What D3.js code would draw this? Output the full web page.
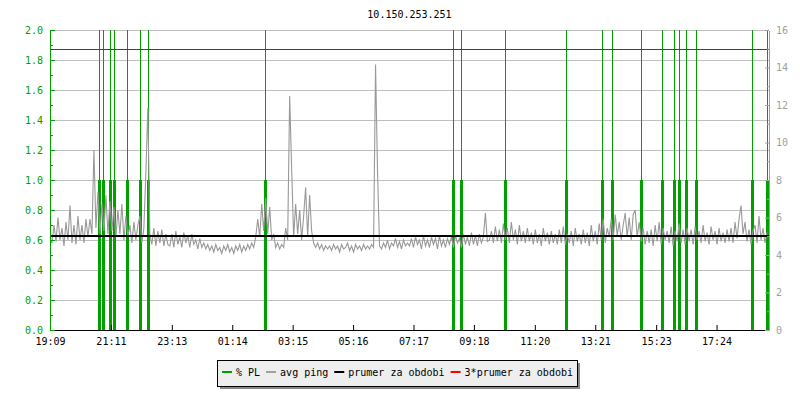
<!DOCTYPE html>
<html>
<head>
<meta charset="utf-8">
<script src="https://cdn.jsdelivr.net/npm/d3@7"></script>
<style>
  html, body { margin: 0; padding: 0; background: #fff; }
  text { font-family: "DejaVu Sans Mono", monospace; font-size: 10px; }
</style>
</head>
<body>
<script>
// ---------------- DATA ----------------
const title = "10.150.253.251";
const startTime = "19:09";          // start of the 24 h window
const windowMinutes = 1440;
const pingStepMinutes = 4;

// avg ping (left axis), one value every 4 minutes from 19:09
const avgPing = [
  0.62,0.58,0.70,0.59,0.75,0.60,0.68,0.56,0.72,0.60,0.83,0.58,0.70,0.57,0.76,0.60,0.70,0.58,0.74,0.62,
  0.74,0.64,1.20,0.68,0.92,0.64,0.84,0.66,0.90,0.64,0.86,0.66,0.82,0.62,0.80,0.64,0.84,0.60,0.76,0.62,
  0.70,0.58,0.72,0.60,0.70,0.76,0.58,0.68,1.05,1.48,0.64,0.57,0.68,0.56,0.66,0.58,0.67,0.56,0.64,0.57,
  0.56,0.64,0.55,0.66,0.57,0.62,0.55,0.65,0.58,0.63,0.55,0.64,0.57,0.60,0.54,0.61,0.55,0.58,0.54,0.57,
  0.53,0.56,0.52,0.57,0.53,0.55,0.51,0.56,0.53,0.57,0.52,0.55,0.51,0.56,0.53,0.57,0.52,0.56,0.53,0.57,
  0.54,0.58,0.55,0.62,0.74,0.62,0.84,0.66,0.88,0.64,0.82,0.60,0.64,0.55,0.58,0.54,0.57,0.55,0.68,0.60,
  1.56,1.07,0.62,0.84,0.64,0.80,0.60,0.76,0.95,0.62,0.90,0.66,0.58,0.55,0.58,0.54,0.57,0.53,0.56,0.54,
  0.56,0.53,0.57,0.54,0.56,0.52,0.57,0.54,0.55,0.58,0.53,0.56,0.52,0.57,0.54,0.56,0.53,0.57,0.54,0.56,
  0.54,0.57,0.55,1.77,1.05,0.56,0.54,0.58,0.55,0.60,0.54,0.58,0.56,0.61,0.55,0.59,0.54,0.60,0.56,0.58,
  0.56,0.61,0.55,0.62,0.57,0.60,0.54,0.63,0.56,0.60,0.55,0.62,0.57,0.61,0.54,0.63,0.56,0.60,0.55,0.61,
  0.57,0.62,0.55,0.63,0.58,0.61,0.55,0.64,0.57,0.62,0.56,0.65,0.57,0.63,0.56,0.64,0.58,0.62,0.78,0.59,
  0.60,0.66,0.58,0.69,0.59,0.67,0.58,0.71,0.60,0.68,0.58,0.72,0.60,0.67,0.57,0.70,0.59,0.66,0.58,0.68,
  0.59,0.65,0.57,0.67,0.58,0.64,0.56,0.68,0.59,0.65,0.57,0.66,0.58,0.64,0.57,0.67,0.58,0.69,0.57,0.64,
  0.58,0.66,0.56,0.68,0.59,0.64,0.57,0.67,0.58,0.65,0.56,0.70,0.59,0.66,0.57,0.71,0.60,0.74,0.58,0.68,
  0.62,0.74,0.60,0.77,0.63,0.72,0.60,0.70,0.78,0.62,0.75,0.60,0.77,0.80,0.62,0.72,0.59,0.68,0.57,0.66,
  0.58,0.67,0.56,0.70,0.59,0.72,0.57,0.68,0.60,0.66,0.58,0.69,0.56,0.66,0.59,0.71,0.58,0.67,0.57,0.68,
  0.59,0.67,0.57,0.69,0.60,0.66,0.58,0.70,0.59,0.65,0.57,0.69,0.60,0.66,0.57,0.68,0.59,0.65,0.58,0.67,
  0.59,0.68,0.58,0.72,0.61,0.74,0.83,0.64,0.72,0.59,0.67,0.57,0.66,0.70,0.58,0.76,0.60,0.68,0.58,0.65
];

// packet-loss events (right axis, %)
const plTimes = ["20:47","20:55","21:09","21:17","21:43","22:09","22:25","02:20","08:36","08:52","10:20",
                 "12:22","13:35","13:55","14:53","15:35","15:59","16:09","16:23","16:43","18:35","19:05"];
const plPct   = [8,8,8,8,8,8,8,8,8,8,8,8,8,8,8,8,8,8,8,8,8,8];

const periodMean = 0.625;           // prumer za obdobi
const meanFactor = 3;               // 3*prumer za obdobi

const xTickLabels = ["19:09","21:11","23:13","01:14","03:15","05:16","07:17","09:18","11:20","13:21","15:23","17:24"];
const leftTicks  = [0,0.2,0.4,0.6,0.8,1.0,1.2,1.4,1.6,1.8,2.0];
const leftMinor  = [0.1,0.3,0.5,0.7,0.9,1.1,1.3,1.5,1.7,1.9];
const rightTicks = [0,2,4,6,8,10,12,14,16];
const rightMinor = [1,3,5,7,9,11,13,15];

const legendItems = [
  {label: "% PL", color: "#00a000"},
  {label: "avg ping", color: "#a0a0a0"},
  {label: "prumer za obdobi", color: "#000000"},
  {label: "3*prumer za obdobi", color: "#ff0000"}
];

// ---------------- HELPERS ----------------
const GREEN = "#00a000", GRAY = "#999999", AXISGRAY = "#a0a0a0", GRID = "#c0c0c0";
const [sh, sm] = startTime.split(":").map(Number);
const t0 = Date.UTC(2020, 0, 1, sh, sm);
function clockToDate(s) {
  const [h, m] = s.split(":").map(Number);
  let min = h * 60 + m - (sh * 60 + sm);
  if (min < 0) min += 1440;
  return new Date(t0 + min * 60000);
}

// ---------------- LAYOUT ----------------
const W = 800, H = 400;
const plot = {left: 50, right: 769, top: 30, bottom: 330};

const svg = d3.select("body").append("svg").attr("width", W).attr("height", H);

const x = d3.scaleUtc().domain([new Date(t0), new Date(t0 + windowMinutes * 60000)]).range([plot.left, plot.right]);
const yL = d3.scaleLinear().domain([0, 2]).range([plot.bottom, plot.top]);
const yR = d3.scaleLinear().domain([0, 16]).range([plot.bottom, plot.top]);

// title
svg.append("text").attr("x", (plot.left + plot.right) / 2).attr("y", 18)
  .attr("text-anchor", "middle").attr("fill", "#000").text(title);

// grid lines
const grid = svg.append("g").attr("transform", `translate(${plot.left},0)`)
  .call(d3.axisLeft(yL).tickValues(leftTicks.filter(v => v > 0)).tickSize(-(plot.right - plot.left)).tickFormat(""));
grid.select(".domain").remove();
grid.selectAll("line").attr("stroke", GRID).attr("shape-rendering", "crispEdges");

// packet loss
const plG = svg.append("g");
plTimes.forEach((t, i) => {
  const px = Math.round(x(clockToDate(t)));
  plG.append("line").attr("x1", px + 0.5).attr("x2", px + 0.5)
    .attr("y1", yR(16)).attr("y2", yR(0)).attr("stroke", GREEN).attr("stroke-width", 1);
  plG.append("rect").attr("x", px - 1).attr("width", 3)
    .attr("y", yR(plPct[i])).attr("height", yR(0) - yR(plPct[i])).attr("fill", GREEN);
});

// ping line
const pingData = avgPing.map((v, i) => ({t: new Date(t0 + i * pingStepMinutes * 60000), v}));
svg.append("path").datum(pingData)
  .attr("fill", "none").attr("stroke", GRAY).attr("stroke-width", 1.1)
  .attr("d", d3.line().x(d => x(d.t)).y(d => yL(d.v)));

// mean lines
svg.append("line").attr("x1", plot.left).attr("x2", plot.right)
  .attr("y1", Math.round(yL(periodMean))).attr("y2", Math.round(yL(periodMean)))
  .attr("stroke", "#000").attr("stroke-width", 2);
svg.append("line").attr("x1", plot.left).attr("x2", plot.right)
  .attr("y1", Math.round(yL(periodMean * meanFactor)) + 0.5).attr("y2", Math.round(yL(periodMean * meanFactor)) + 0.5)
  .attr("stroke", "#e00000").attr("stroke-width", 1);

// bottom axis
const xAxis = svg.append("g").attr("transform", `translate(0,${plot.bottom})`)
  .call(d3.axisBottom(x).tickValues(xTickLabels.map(clockToDate)).tickFormat(d3.utcFormat("%H:%M"))
    .tickSize(-5).tickSizeOuter(0).tickPadding(8));
xAxis.select(".domain").attr("stroke", "#000").attr("shape-rendering", "crispEdges");
xAxis.selectAll("line").attr("stroke", "#000");
xAxis.selectAll("text").attr("fill", "#000").style("font-size", "10px").style("font-family", "DejaVu Sans Mono");

// left axis
const yAxisL = svg.append("g").attr("transform", `translate(${plot.left},0)`)
  .call(d3.axisLeft(yL).tickValues(leftTicks).tickFormat(d3.format(".1f")).tickSize(-5).tickSizeOuter(0).tickPadding(7));
yAxisL.select(".domain").attr("stroke", GREEN).attr("shape-rendering", "crispEdges");
yAxisL.selectAll("line").attr("stroke", GREEN);
yAxisL.selectAll("text").attr("fill", GREEN).style("font-size", "10px").style("font-family", "DejaVu Sans Mono");
const yAxisLm = svg.append("g").attr("transform", `translate(${plot.left},0)`)
  .call(d3.axisLeft(yL).tickValues(leftMinor).tickFormat("").tickSize(-3).tickSizeOuter(0));
yAxisLm.select(".domain").remove();
yAxisLm.selectAll("line").attr("stroke", GREEN);

// right axis
const yAxisR = svg.append("g").attr("transform", `translate(${plot.right},0)`)
  .call(d3.axisRight(yR).tickValues(rightTicks).tickSize(-4).tickSizeOuter(0).tickPadding(7));
yAxisR.select(".domain").attr("stroke", AXISGRAY).attr("shape-rendering", "crispEdges");
yAxisR.selectAll("line").attr("stroke", AXISGRAY);
yAxisR.selectAll("text").attr("fill", AXISGRAY).style("font-size", "10px").style("font-family", "DejaVu Sans Mono");
const yAxisRm = svg.append("g").attr("transform", `translate(${plot.right},0)`)
  .call(d3.axisRight(yR).tickValues(rightMinor).tickFormat("").tickSize(-2).tickSizeOuter(0));
yAxisRm.select(".domain").remove();
yAxisRm.selectAll("line").attr("stroke", AXISGRAY);

// legend
const lg = svg.append("g");
const box = {x: 217, y: 360, w: 360, h: 26};
lg.append("rect").attr("x", box.x + 3).attr("y", box.y + 3).attr("width", box.w).attr("height", box.h).attr("fill", "#888");
lg.append("rect").attr("x", box.x + 0.5).attr("y", box.y + 0.5).attr("width", box.w).attr("height", box.h)
  .attr("fill", "#eeeeee").attr("stroke", "#000");
let cx = box.x + 5;
legendItems.forEach(item => {
  lg.append("line").attr("x1", cx).attr("x2", cx + 10).attr("y1", 372).attr("y2", 372)
    .attr("stroke", item.color).attr("stroke-width", 2);
  const t = lg.append("text").attr("x", cx + 14).attr("y", 376).attr("fill", "#000").text(item.label);
  cx += 14 + t.node().getComputedTextLength() + 6;
});
</script>
</body>
</html>
